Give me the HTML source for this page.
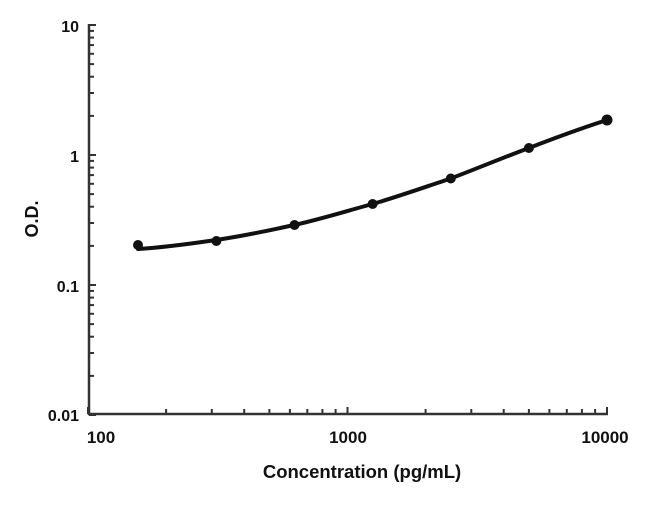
<!DOCTYPE html>
<html><head><meta charset="utf-8"><style>
html,body{margin:0;padding:0;background:#fff;width:650px;height:508px;overflow:hidden}
text{font-family:"Liberation Sans",Arial,sans-serif;font-weight:bold;fill:#111}
</style></head><body>
<svg id="s" width="650" height="508" viewBox="0 0 650 508" xmlns="http://www.w3.org/2000/svg">
<g stroke="#333" stroke-width="2.5" fill="none">
<line x1="89" y1="24" x2="89" y2="415"/>
<line x1="88" y1="414" x2="608" y2="414"/>
</g>
<g id="ticks" stroke="#333" stroke-width="2"></g>
<g font-size="16" text-anchor="end">
<text x="79" y="32">10</text>
<text x="79" y="162">1</text>
<text x="79" y="292">0.1</text>
<text x="79" y="421">0.01</text>
</g>
<g font-size="17" text-anchor="middle">
<text x="101" y="443">100</text>
<text x="348" y="443">1000</text>
<text x="605" y="443">10000</text>
</g>
<text x="362" y="478" font-size="18.5" text-anchor="middle">Concentration (pg/mL)</text>
<text transform="translate(38,219) rotate(-90)" font-size="18" text-anchor="middle">O.D.</text>
<path d="M138,249 C170,247 195,243 216,240 C250,235 270,230 294.5,225 C325,218 350,210 372.6,204 C400,196 425,187 450.8,178.5 C478,168 505,157 528.9,148 C560,136 585,127 607,120" stroke="#111" stroke-width="4" fill="none" stroke-linecap="round"/>
<g fill="#111">
<circle cx="138" cy="245" r="5"/>
<circle cx="216.4" cy="241" r="5"/>
<circle cx="294.5" cy="225" r="5"/>
<circle cx="372.6" cy="204" r="5"/>
<circle cx="450.8" cy="178.5" r="5"/>
<circle cx="528.9" cy="148" r="5"/>
<circle cx="607" cy="120" r="5.5"/>
</g>
</svg>
<script>
var g=document.getElementById('ticks'),h='';
for(var d=0;d<3;d++){for(var k=1;k<=10;k++){
var y=415-130*(d+Math.log10(k));
var len=(k==1||k==10)?7:5;
h+='<line x1="89" x2="'+(89+len)+'" y1="'+y.toFixed(1)+'" y2="'+y.toFixed(1)+'"/>';
}}
for(var d=0;d<2;d++){for(var k=1;k<=10;k++){
var x=88+259.5*(d+Math.log10(k));var len=(k==1||k==10)?7:5;
h+='<line y1="414" y2="'+(414-len)+'" x1="'+x.toFixed(1)+'" x2="'+x.toFixed(1)+'"/>';
}}
g.innerHTML=h;
</script>
</body></html>
